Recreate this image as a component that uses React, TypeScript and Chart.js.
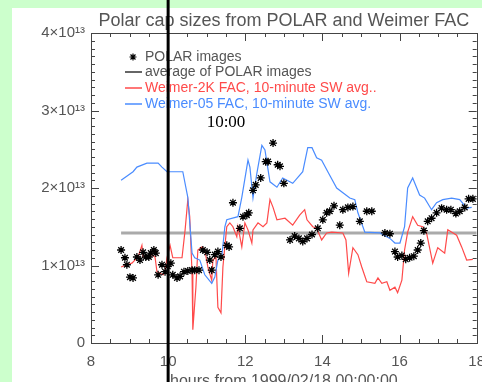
import React, { useEffect, useRef } from 'react';
import { Chart, registerables } from 'chart.js';

Chart.register(...registerables);

// ---------- data (values in units of 10^13) ----------
const polarHours = [
  8.78, 8.88, 8.93, 9.01, 9.09, 9.19, 9.27, 9.35, 9.42, 9.5,
  9.55, 9.63, 9.68, 9.74, 9.84, 9.92, 9.99, 10.07, 10.12, 10.23,
  10.31, 10.41, 10.51, 10.62, 10.69, 10.8, 10.9, 11.01, 11.08, 11.13,
  11.21, 11.29, 11.37, 11.52, 11.58, 11.68, 11.86, 11.94, 12.04, 12.09,
  12.2, 12.27, 12.4, 12.53, 12.59, 12.72, 12.84, 12.9, 13.0, 13.16,
  13.28, 13.39, 13.49, 13.6, 13.73, 13.88, 14.01, 14.11, 14.19, 14.3,
  14.45, 14.53, 14.66, 14.79, 14.97, 15.15, 15.28, 15.62, 15.75, 15.88,
  15.95, 16.06, 16.16, 16.26, 16.37, 16.47, 16.55, 16.63, 16.73, 16.83,
  16.96, 17.09, 17.22, 17.33, 17.46, 17.56, 17.69, 17.79, 17.9,
];
const polarValues = [
  1.2, 1.1, 1.01, 0.85, 0.84, 1.11, 1.07, 1.17, 1.11, 1.11,
  1.16, 1.2, 1.16, 0.88, 1.01, 0.92, 0.99, 1.03, 0.88, 0.84,
  0.86, 0.92, 0.93, 0.94, 0.94, 0.94, 1.2, 1.17, 1.07, 0.94,
  1.14, 1.18, 1.11, 1.26, 1.24, 1.81, 1.48, 1.63, 1.65, 1.68,
  1.97, 2.04, 2.13, 2.34, 2.34, 2.58, 2.3, 2.28, 2.06, 1.33,
  1.38, 1.35, 1.31, 1.35, 1.4, 1.48, 1.59, 1.68, 1.7, 1.77,
  1.52, 1.72, 1.75, 1.76, 1.57, 1.7, 1.7, 1.42, 1.41, 1.18,
  1.11, 1.13, 1.08, 1.1, 1.12, 1.2, 1.29, 1.45, 1.57, 1.61,
  1.68, 1.74, 1.72, 1.72, 1.67, 1.7, 1.75, 1.86, 1.86,
];

const averageHours = [8.78, 18];
const averageValues = [1.42, 1.42];

const weimer2kHours = [
  8.78, 8.93, 9.06, 9.22, 9.32, 9.35, 9.58, 9.66, 9.71, 9.87,
  9.92, 9.97, 10.05, 10.12, 10.36, 10.44, 10.51, 10.56, 10.62, 10.64,
  10.72, 10.77, 10.88, 10.95, 11.03, 11.13, 11.16, 11.24, 11.29, 11.37,
  11.42, 11.52, 11.6, 11.68, 11.78, 11.81, 11.91, 11.99, 12.07, 12.17,
  12.2, 12.33, 12.46, 12.56, 12.64, 12.72, 12.82, 13.03, 13.23, 13.41,
  13.54, 13.6, 13.75, 13.85, 13.98, 14.11, 14.24, 14.53, 14.61, 14.68,
  14.79, 14.92, 15.02, 15.15, 15.36, 15.44, 15.54, 15.67, 15.75, 15.88,
  15.95, 16.06, 16.13, 16.21, 16.34, 16.47, 16.6, 16.7, 16.86, 16.99,
  17.17, 17.25, 17.48, 17.61, 17.74, 17.9,
];
const weimer2kValues = [
  0.98, 1.01, 1.03, 1.11, 1.26, 1.11, 1.14, 1.11, 0.92, 0.88,
  0.92, 1.1, 1.26, 1.1, 1.1, 1.46, 1.85, 1.63, 0.9, 0.17,
  0.72, 1.2, 1.24, 1.2, 0.98, 0.81, 1.07, 1.11, 0.46, 0.39,
  0.98, 1.5, 1.55, 1.5, 1.37, 1.5, 1.24, 1.55, 1.46, 1.29,
  1.46, 1.55, 1.5, 1.55, 1.85, 1.75, 1.59, 1.61, 1.52, 1.65,
  1.72, 1.59, 1.5, 1.48, 1.33, 1.42, 1.43, 1.42, 1.33, 0.9,
  1.23, 1.14, 0.98, 0.79, 0.77, 0.84, 0.77, 0.79, 0.68, 0.72,
  0.65, 0.81, 1.2, 1.43, 1.63, 1.52, 1.5, 1.42, 1.03, 1.23,
  1.16, 1.46, 1.39, 1.24, 1.07, 1.08,
];

const weimer05Hours = [
  8.78, 9.09, 9.19, 9.45, 9.74, 9.84, 9.97, 10.38, 10.51, 10.62,
  10.69, 10.82, 10.95, 11.13, 11.21, 11.29, 11.39, 11.47, 11.52, 11.81,
  11.91, 12.07, 12.12, 12.2, 12.3, 12.43, 12.51, 12.64, 12.82, 12.97,
  13.23, 13.49, 13.62, 13.73, 13.85, 13.98, 14.14, 14.37, 14.71, 14.84,
  14.92, 15.1, 15.49, 15.75, 15.88, 16.01, 16.13, 16.21, 16.34, 16.52,
  16.65, 16.83, 16.96, 17.12, 17.35, 17.56, 17.74, 17.87,
];
const weimer05Values = [
  2.1, 2.21, 2.27, 2.32, 2.32, 2.27, 2.21, 2.21, 1.88, 1.16,
  1.1, 1.07, 0.88, 0.77, 0.85, 1.07, 1.11, 1.5, 1.59, 1.63,
  1.88, 2.36, 2.27, 1.87, 2.19, 2.55, 2.49, 2.08, 2.01, 2.13,
  2.06, 2.21, 2.52, 2.52, 2.39, 2.36, 2.21, 2.0, 1.87, 1.85,
  1.68, 1.43, 1.42, 1.35, 1.29, 1.29, 1.5, 2.0, 2.13, 1.91,
  1.87, 1.72, 1.81, 1.85, 1.87, 1.85, 1.74, 1.75,
];

const xTickValues = [8, 10, 12, 14, 16, 18];
const yTickValues = [0, 1, 2, 3, 4];
const yTickLabels = ['0', '1×10¹³', '2×10¹³', '3×10¹³', '4×10¹³'];

const titleText = 'Polar cap sizes from POLAR and Weimer FAC';
const xTitleText = 'hours from 1999/02/18 00:00:00';
const seriesLabels = [
  'POLAR images',
  'average of POLAR images',
  'Weimer-2K FAC, 10-minute SW avg..',
  'Weimer-05 FAC, 10-minute SW avg.',
];
const markerHour = 10;
const markerText = '10:00';

// ---------- styles ----------
const SANS = '"Liberation Sans", Arial, Helvetica, sans-serif';
const TEXT = '#555555';
const RED = '#ff4a4a';
const BLUE = '#4a8cff';
const GRAY = '#aaaaaa';
const AXIS = '#444444';

const zip = (xs: number[], ys: number[]) => xs.map((x, i) => ({ x, y: ys[i] }));

const decorPlugin = {
  id: 'decor',
  beforeDraw(chart: any) {
    const { ctx, width, height } = chart;
    ctx.save();
    ctx.fillStyle = '#ccffcc';
    ctx.fillRect(0, 0, width, height);
    ctx.fillStyle = '#ffffff';
    ctx.fillRect(12, 8, width - 12, height - 8);
    ctx.restore();
  },
  afterDraw(chart: any) {
    const { ctx, chartArea: a, scales } = chart;
    const xs = scales.x;
    const ys = scales.y;
    ctx.save();
    // frame
    ctx.strokeStyle = AXIS;
    ctx.lineWidth = 1;
    ctx.strokeRect(Math.round(a.left) + 0.5, Math.round(a.top) + 0.5, Math.round(a.right - a.left), Math.round(a.bottom - a.top));
    // x ticks (bottom & top)
    ctx.beginPath();
    for (let i = 0; i <= 20; i++) {
      const v = 8 + i * 0.5;
      const px = Math.round(xs.getPixelForValue(v)) + 0.5;
      const len = i % 4 === 0 ? 8 : 4;
      ctx.moveTo(px, a.bottom);
      ctx.lineTo(px, a.bottom - len);
      ctx.moveTo(px, a.top);
      ctx.lineTo(px, a.top + len);
    }
    // y ticks (left & right)
    for (let i = 0; i <= 40; i++) {
      const v = i / 10;
      const py = Math.round(ys.getPixelForValue(v)) + 0.5;
      const len = i % 10 === 0 ? 8 : 4;
      ctx.moveTo(a.left, py);
      ctx.lineTo(a.left + len, py);
      ctx.moveTo(a.right, py);
      ctx.lineTo(a.right - len, py);
    }
    ctx.stroke();

    // title
    ctx.fillStyle = TEXT;
    ctx.font = `18px ${SANS}`;
    ctx.textAlign = 'center';
    ctx.textBaseline = 'middle';
    ctx.fillText(titleText, (a.left + a.right) / 2, 21);

    // x axis title
    ctx.font = `16px ${SANS}`;
    ctx.textBaseline = 'alphabetic';
    ctx.fillText(xTitleText, (a.left + a.right) / 2, 386);

    // legend
    const lx = a.left + 34;
    const rows = [57, 72, 88, 104];
    const colors = ['#000000', '#333333', RED, BLUE];
    ctx.font = `14px ${SANS}`;
    ctx.textAlign = 'left';
    ctx.textBaseline = 'middle';
    rows.forEach((ry, i) => {
      if (i === 0) {
        ctx.strokeStyle = '#000';
        ctx.lineWidth = 1.2;
        const cx = lx + 8;
        const r = 3.5;
        ctx.beginPath();
        for (let k = 0; k < 4; k++) {
          const ang = (k * Math.PI) / 4;
          ctx.moveTo(cx - r * Math.cos(ang), ry - r * Math.sin(ang));
          ctx.lineTo(cx + r * Math.cos(ang), ry + r * Math.sin(ang));
        }
        ctx.stroke();
      } else {
        ctx.strokeStyle = colors[i];
        ctx.lineWidth = 1.5;
        ctx.beginPath();
        ctx.moveTo(lx, ry);
        ctx.lineTo(lx + 17, ry);
        ctx.stroke();
      }
      ctx.fillStyle = i >= 2 ? colors[i] : TEXT;
      ctx.fillText(seriesLabels[i], lx + 20, ry);
    });

    // marker line at 10:00
    const mx = xs.getPixelForValue(markerHour);
    ctx.strokeStyle = '#000';
    ctx.lineWidth = 3;
    ctx.beginPath();
    ctx.moveTo(mx, 0);
    ctx.lineTo(mx, chart.height);
    ctx.stroke();

    ctx.fillStyle = '#000';
    ctx.font = '17px "Liberation Serif", "Times New Roman", serif';
    ctx.textAlign = 'center';
    ctx.textBaseline = 'middle';
    ctx.fillText(markerText, xs.getPixelForValue(11.5), ys.getPixelForValue(2.85));
    ctx.restore();
  },
};

export default function App() {
  const ref = useRef<HTMLCanvasElement | null>(null);

  useEffect(() => {
    if (!ref.current) return;
    const chart = new Chart(ref.current, {
      type: 'scatter',
      data: {
        datasets: [
          {
            label: seriesLabels[0],
            data: zip(polarHours, polarValues),
            showLine: false,
            pointStyle: 'star',
            pointRadius: 4,
            pointBorderColor: '#000',
            pointBackgroundColor: '#000',
            pointBorderWidth: 1.3,
            order: 0,
          },
          {
            label: seriesLabels[1],
            data: zip(averageHours, averageValues),
            showLine: true,
            borderColor: GRAY,
            borderWidth: 3,
            pointRadius: 0,
            order: 3,
          },
          {
            label: seriesLabels[2],
            data: zip(weimer2kHours, weimer2kValues),
            showLine: true,
            borderColor: RED,
            borderWidth: 1.2,
            pointRadius: 0,
            order: 2,
          },
          {
            label: seriesLabels[3],
            data: zip(weimer05Hours, weimer05Values),
            showLine: true,
            borderColor: BLUE,
            borderWidth: 1.2,
            pointRadius: 0,
            order: 1,
          },
        ],
      },
      options: {
        animation: false,
        responsive: false,
        maintainAspectRatio: false,
        layout: { padding: { left: 0, top: 33, right: 5, bottom: 0 } },
        plugins: {
          legend: { display: false },
          title: { display: false },
          tooltip: { enabled: false },
        },
        scales: {
          x: {
            type: 'linear',
            min: 8,
            max: 18,
            border: { display: false },
            grid: { display: false, drawTicks: false },
            afterFit: (s: any) => { s.height = 39; s.paddingLeft = 0; s.paddingRight = 0; },
            afterBuildTicks: (s: any) => { s.ticks = xTickValues.map((v) => ({ value: v })); },
            ticks: {
              color: TEXT,
              font: { family: SANS, size: 15 },
              padding: 10,
              maxRotation: 0,
              autoSkip: false,
              callback: (v: any) => String(v),
            },
          },
          y: {
            type: 'linear',
            min: 0,
            max: 4,
            border: { display: false },
            grid: { display: false, drawTicks: false },
            afterFit: (s: any) => { s.width = 91; s.paddingTop = 0; s.paddingBottom = 0; },
            afterBuildTicks: (s: any) => { s.ticks = yTickValues.map((v) => ({ value: v })); },
            ticks: {
              color: TEXT,
              font: { family: SANS, size: 15 },
              padding: 6,
              autoSkip: false,
              callback: (v: any) => yTickLabels[yTickValues.indexOf(Number(v))] ?? '',
            },
          },
        },
      },
      plugins: [decorPlugin],
    } as any);
    return () => chart.destroy();
  }, []);

  return (
    <div style={{ position: 'fixed', left: 0, top: 0, width: 482, height: 382 }}>
      <canvas ref={ref} width={482} height={382} style={{ display: 'block', width: 482, height: 382 }} />
    </div>
  );
}
